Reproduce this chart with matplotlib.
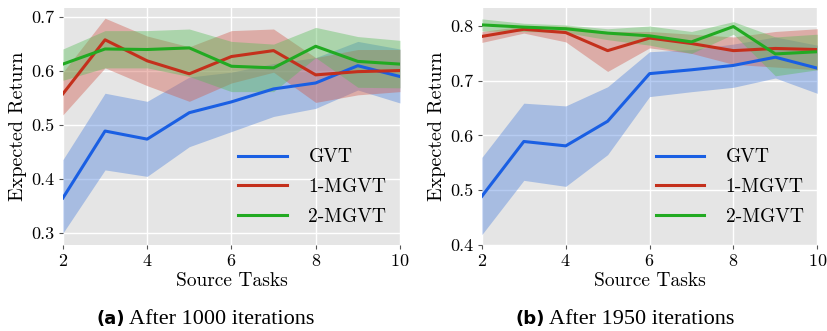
import numpy as np
import matplotlib.pyplot as plt

# Number of source tasks on the x axis
tasks = [2, 3, 4, 5, 6, 7, 8, 9, 10]
labels = ['GVT', '1-MGVT', '2-MGVT']

# After 1000 iterations: mean, lower and upper bound of the confidence band
gvt_1000 = [0.365, 0.489, 0.474, 0.523, 0.543, 0.567, 0.578, 0.610, 0.590]
gvt_1000_lo = [0.300, 0.417, 0.405, 0.460, 0.488, 0.516, 0.531, 0.565, 0.541]
gvt_1000_hi = [0.436, 0.559, 0.544, 0.589, 0.598, 0.614, 0.625, 0.655, 0.641]

mgvt1_1000 = [0.558, 0.658, 0.619, 0.595, 0.627, 0.638, 0.593, 0.599, 0.601]
mgvt1_1000_lo = [0.519, 0.606, 0.573, 0.544, 0.578, 0.598, 0.542, 0.556, 0.562]
mgvt1_1000_hi = [0.598, 0.698, 0.665, 0.645, 0.675, 0.678, 0.625, 0.640, 0.640]

mgvt2_1000 = [0.613, 0.641, 0.640, 0.643, 0.609, 0.606, 0.646, 0.618, 0.613]
mgvt2_1000_lo = [0.583, 0.606, 0.606, 0.590, 0.562, 0.562, 0.625, 0.570, 0.569]
mgvt2_1000_hi = [0.641, 0.675, 0.675, 0.678, 0.655, 0.650, 0.681, 0.664, 0.657]

# After 1950 iterations
gvt_1950 = [0.489, 0.589, 0.581, 0.626, 0.713, 0.720, 0.728, 0.743, 0.723]
gvt_1950_lo = [0.419, 0.518, 0.507, 0.565, 0.671, 0.680, 0.688, 0.705, 0.677]
gvt_1950_hi = [0.560, 0.659, 0.654, 0.689, 0.753, 0.757, 0.767, 0.780, 0.765]

mgvt1_1950 = [0.781, 0.794, 0.788, 0.755, 0.778, 0.768, 0.755, 0.759, 0.757]
mgvt1_1950_lo = [0.770, 0.787, 0.771, 0.717, 0.760, 0.750, 0.730, 0.725, 0.720]
mgvt1_1950_hi = [0.790, 0.800, 0.800, 0.790, 0.790, 0.785, 0.780, 0.790, 0.795]

mgvt2_1950 = [0.802, 0.798, 0.795, 0.787, 0.782, 0.771, 0.799, 0.749, 0.753]
mgvt2_1950_lo = [0.791, 0.790, 0.788, 0.775, 0.765, 0.750, 0.785, 0.709, 0.720]
mgvt2_1950_hi = [0.813, 0.805, 0.802, 0.795, 0.800, 0.790, 0.808, 0.780, 0.785]

line_colors = ['#1a5fe3', '#c4301c', '#22aa22']
band_colors = ['#4a7fdc', '#d0584a', '#55bb55']

plt.rcParams['font.family'] = 'cmr10'
plt.rcParams['mathtext.fontset'] = 'cm'
plt.rcParams['axes.formatter.use_mathtext'] = True

fig = plt.figure(figsize=(8.28, 3.31), dpi=100)
ax1 = fig.add_axes([0.076, 0.26, 0.407, 0.716])
ax2 = fig.add_axes([0.582, 0.26, 0.405, 0.716])

panels = [
    (ax1, [(gvt_1000, gvt_1000_lo, gvt_1000_hi),
           (mgvt1_1000, mgvt1_1000_lo, mgvt1_1000_hi),
           (mgvt2_1000, mgvt2_1000_lo, mgvt2_1000_hi)],
     (0.278, 0.717), [0.3, 0.4, 0.5, 0.6, 0.7]),
    (ax2, [(gvt_1950, gvt_1950_lo, gvt_1950_hi),
           (mgvt1_1950, mgvt1_1950_lo, mgvt1_1950_hi),
           (mgvt2_1950, mgvt2_1950_lo, mgvt2_1950_hi)],
     (0.4, 0.833), [0.4, 0.5, 0.6, 0.7, 0.8]),
]

for ax, series, ylim, yticks in panels:
    ax.set_facecolor('#e5e5e5')
    for (mean, lo, hi), lab, lc, bc in zip(series, labels, line_colors, band_colors):
        ax.fill_between(tasks, lo, hi, color=bc, alpha=0.4, linewidth=0)
        ax.plot(tasks, mean, color=lc, lw=2.2, label=lab)
    ax.set_xlim(2, 10)
    ax.set_ylim(*ylim)
    ax.set_xticks([2, 4, 6, 8, 10])
    ax.set_yticks(yticks)
    ax.yaxis.set_major_formatter(plt.FormatStrFormatter('%.1f'))
    ax.grid(True, color='white', lw=1.0)
    ax.set_axisbelow(True)
    for s in ax.spines.values():
        s.set_visible(False)
    ax.tick_params(labelsize=13, length=3, color='#555555', pad=3)
    ax.set_xlabel('Source Tasks', fontsize=14, labelpad=2)
    ax.set_ylabel('Expected Return', fontsize=14.5, labelpad=3)
    ax.legend(loc='lower right', frameon=False, fontsize=14, handlelength=2.5,
              handletextpad=1.1, borderaxespad=0.9, labelspacing=0.6,
              bbox_to_anchor=(1.035, -0.025))

# Sub-captions under each panel
for xc, tag, txt in [(0.151, '(a)', 'After 1000 iterations'),
                     (0.658, '(b)', 'After 1950 iterations')]:
    fig.text(xc, 0.035, tag, ha='right', va='center', fontsize=13,
             fontweight='bold', family='DejaVu Sans')
    fig.text(xc + 0.005, 0.035, txt, ha='left', va='center', fontsize=16,
             family='Liberation Serif')

fig.savefig('out.png', dpi=100)
